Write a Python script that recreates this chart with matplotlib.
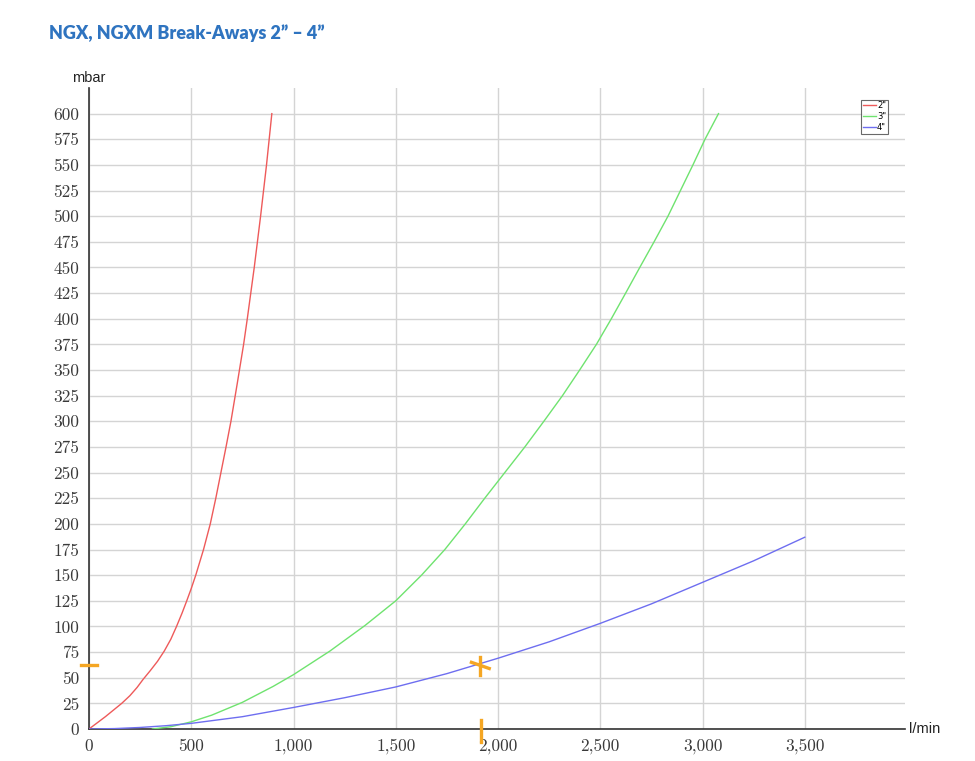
import numpy as np
import matplotlib.pyplot as plt

# flow in l/min, pressure drop in mbar
x_2in = [0, 40, 80, 120, 160, 200, 235, 265, 300, 335, 368, 400, 428, 455, 478, 500, 522, 560, 593, 620, 645, 670, 694, 725, 756, 774, 808, 839, 868, 894]
y_2in = [0, 6, 12, 18.5, 25, 32.5, 40.5, 48.5, 57, 66, 76, 87.5, 100, 113, 125, 137, 150, 175, 200, 225, 250, 275, 300, 337, 375, 400, 450, 500, 550, 600]

x_3in = [310, 400, 500, 600, 750, 900, 1000, 1178, 1350, 1500, 1626, 1740, 1840, 1935, 2033, 2131, 2224, 2315, 2399, 2481, 2554, 2624, 2693, 2763, 2831, 2892, 2953, 3012, 3078]
y_3in = [0, 2.2, 7, 13.5, 26, 41.5, 53, 76, 101, 125, 150, 175, 200, 225, 250, 275, 300, 325, 350, 375, 400, 425, 450, 475, 500, 525, 550, 575, 600]

x_4in = [0, 125, 250, 375, 500, 750, 1000, 1250, 1500, 1750, 2000, 2250, 2500, 2750, 3000, 3250, 3500]
y_4in = [0, 0.4, 1.5, 3.2, 5.5, 12, 21, 30.5, 41, 54, 69, 85, 103, 122, 143, 164, 187]

series_labels = ['2"', '3"', '4"']
series_colors = ['#ee5a5a', '#6fe36f', '#6e6ef0']

# operating point marked by hand in orange
op_flow = 1915
op_mbar = 62

x_ticks = [0, 500, 1000, 1500, 2000, 2500, 3000, 3500]
x_ticklabels = ['0', '500', '1,000', '1,500', '2,000', '2,500', '3,000', '3,500']
y_ticks = list(range(0, 601, 25))

W, H = 975, 761
fig = plt.figure(figsize=(W / 100, H / 100), dpi=100)
ax = fig.add_axes([89 / W, 1 - 729 / H, (905 - 89) / W, (729 - 88) / H])

ax.set_xlim(0, 3990)
ax.set_ylim(0, 625)

for xs, ys, lab, col in zip([x_2in, x_3in, x_4in], [y_2in, y_3in, y_4in], series_labels, series_colors):
    ax.plot(xs, ys, color=col, lw=1.0, label=lab, zorder=3)

ax.set_xticks(x_ticks)
ax.set_xticklabels(x_ticklabels)
ax.set_yticks(y_ticks)
ax.grid(True, color='#d4d4d4', lw=1.0, zorder=0)
ax.set_axisbelow(True)
ax.tick_params(length=0, labelsize=12.5, labelcolor='#3a3a3a', pad=7)
for lab in ax.get_xticklabels() + ax.get_yticklabels():
    lab.set_fontfamily(['cmr10', 'DejaVu Serif'])

for s in ['top', 'right']:
    ax.spines[s].set_visible(False)
for s in ['left', 'bottom']:
    ax.spines[s].set_color('#333333')
    ax.spines[s].set_linewidth(1.2)

ax.text(0, 1.005, 'mbar', transform=ax.transAxes, ha='center', va='bottom',
        fontsize=10.5, family='Liberation Sans', color='#222222')
ax.text(1.005, 0, 'l/min', transform=ax.transAxes, ha='left', va='center',
        fontsize=10.5, family='Liberation Sans', color='#222222')

leg = ax.legend(loc='upper right', bbox_to_anchor=(0.979, 0.982), fontsize=6,
                frameon=True, fancybox=False, handlelength=1.6, handletextpad=0.1,
                borderpad=0.2, labelspacing=0.25, borderaxespad=0)
leg.get_frame().set_edgecolor('#444444')
leg.get_frame().set_linewidth(0.8)

# orange hand marks
orange = '#f5a623'
ax.plot([-40, 40], [op_mbar, op_mbar], color=orange, lw=2.4, clip_on=False, zorder=5)
ax.plot([op_flow, op_flow], [9, -13], color=orange, lw=2.4, clip_on=False, zorder=5)
ax.plot([op_flow - 5, op_flow - 5], [53, 70], color=orange, lw=2.4, zorder=5)
ax.plot([op_flow - 45, op_flow + 42], [65, 59], color=orange, lw=2.4, zorder=5)

fig.text(49 / W, 1 - 33 / H, 'NGX, NGXM Break-Aways 2\u201d \u2013 4\u201d',
         fontsize=13, fontweight='heavy', family='Lato', color='#2f74c0',
         ha='left', va='center')

fig.savefig('out.png', dpi=100)
